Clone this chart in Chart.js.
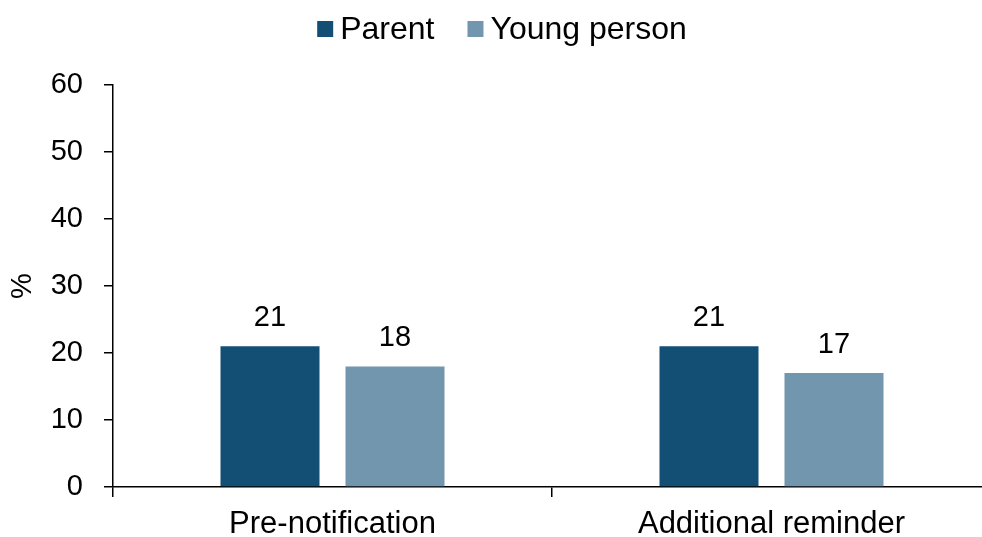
<!DOCTYPE html>
<html>
<head>
<meta charset="utf-8">
<script src="https://cdn.jsdelivr.net/npm/chart.js@4.4.1/dist/chart.umd.min.js"></script>
<style>
  html, body { margin: 0; padding: 0; background: #fff; overflow: hidden; }
  #wrap { position: absolute; left: 0; top: 0; width: 991px; height: 537px; }
</style>
</head>
<body>
<div id="wrap"><canvas id="c"></canvas></div>
<script>
const categories = ["Pre-notification", "Additional reminder"];
const parentValues = [21, 21];
const youngPersonValues = [18, 17];
const seriesNames = ["Parent", "Young person"];
const seriesColors = ["#134f74", "#7296ae"];
const yTicks = [0, 10, 20, 30, 40, 50, 60];

const FONT = "'Liberation Sans', Arial, sans-serif";

const dataLabels = {
  id: 'dataLabels',
  afterDatasetsDraw(chart) {
    const ctx = chart.ctx;
    ctx.save();
    ctx.font = '29px ' + FONT;
    ctx.fillStyle = '#000';
    ctx.textAlign = 'center';
    ctx.textBaseline = 'alphabetic';
    chart.data.datasets.forEach((ds, i) => {
      chart.getDatasetMeta(i).data.forEach((bar, j) => {
        ctx.fillText(String(ds.data[j]), bar.x, bar.y - 20);
      });
    });
    ctx.restore();
  }
};

const topLegend = {
  id: 'topLegend',
  afterDraw(chart) {
    const ctx = chart.ctx;
    ctx.save();
    ctx.font = '32px ' + FONT;
    ctx.textBaseline = 'middle';
    ctx.textAlign = 'left';
    const box = 16, gapText = 7, gapItem = 33;
    const items = chart.data.datasets.map(d => ({ text: d.label, color: d.backgroundColor, w: ctx.measureText(d.label).width }));
    let total = 0;
    items.forEach((it, i) => { total += box + gapText + it.w + (i < items.length - 1 ? gapItem : 0); });
    let x = 502 - total / 2;
    const cy = 29;
    items.forEach(it => {
      ctx.fillStyle = it.color;
      ctx.fillRect(x, cy - box / 2, box, box);
      x += box + gapText;
      ctx.fillStyle = '#000';
      ctx.fillText(it.text, x, cy + 1);
      x += it.w + gapItem;
    });
    ctx.restore();
  }
};

new Chart(document.getElementById('c'), {
  type: 'bar',
  data: {
    labels: categories,
    datasets: [
      { label: seriesNames[0], data: parentValues, backgroundColor: seriesColors[0], categoryPercentage: 0.5695, barPercentage: 0.792 },
      { label: seriesNames[1], data: youngPersonValues, backgroundColor: seriesColors[1], categoryPercentage: 0.5695, barPercentage: 0.792 }
    ]
  },
  options: {
    responsive: true,
    maintainAspectRatio: false,
    animation: false,
    layout: { padding: { left: 6, top: 85, right: 0, bottom: 0 } },
    plugins: {
      tooltip: { enabled: false },
      legend: { display: false }
    },
    scales: {
      x: {
        offset: true,
        grid: { display: true, offset: true, drawOnChartArea: false, drawTicks: true, tickLength: 10, color: '#000', lineWidth: 1.5 },
        border: { display: true, color: '#000', width: 1.5 },
        ticks: { font: { family: FONT, size: 31 }, color: '#000', padding: 9, maxRotation: 0 },
        afterFit(scale) { scale.height = 50; }
      },
      y: {
        min: 0, max: 60,
        afterBuildTicks(scale) { scale.ticks = yTicks.map(v => ({ value: v })); },
        grid: { display: true, drawOnChartArea: false, drawTicks: true, tickLength: 9, color: '#000', lineWidth: 1.5 },
        border: { display: true, color: '#000', width: 1.5 },
        ticks: { font: { family: FONT, size: 29 }, color: '#000', padding: 21 },
        title: { display: true, text: '%', font: { family: FONT, size: 29 }, color: '#000', padding: 0 },
        afterFit(scale) { scale.width = 107; }
      }
    }
  },
  plugins: [dataLabels, topLegend]
});
</script>
</body>
</html>
